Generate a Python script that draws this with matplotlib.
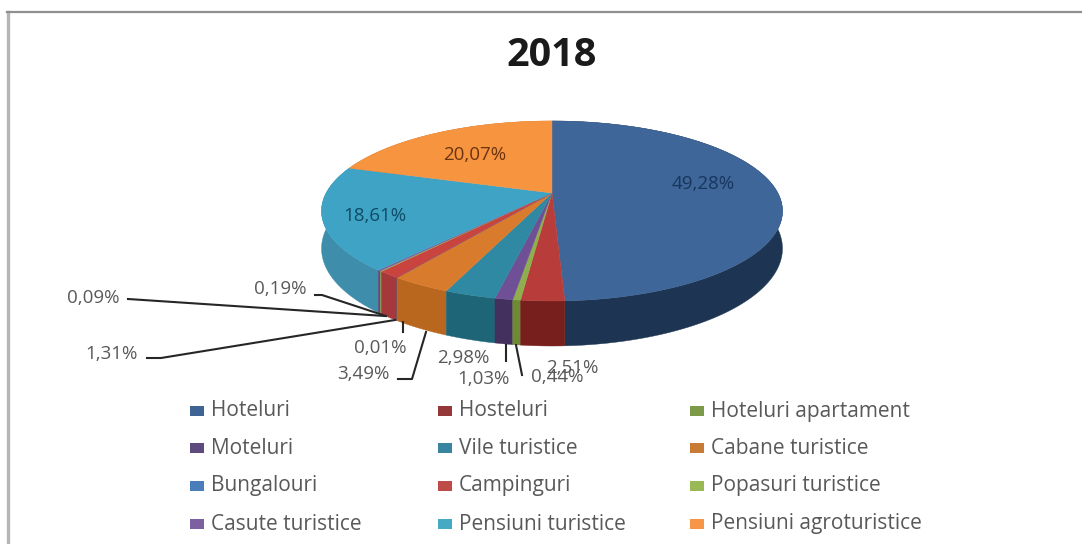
from __future__ import annotations

import numpy as np
import matplotlib

matplotlib.use("Agg")
import matplotlib.pyplot as plt
from matplotlib.patches import Polygon, Rectangle

WIDTH, HEIGHT = 1082, 544

names = [
    "Hoteluri", "Hosteluri", "Hoteluri apartament",
    "Moteluri", "Vile turistice", "Cabane turistice",
    "Bungalouri", "Campinguri", "Popasuri turistice",
    "Casute turistice", "Pensiuni turistice", "Pensiuni agroturistice",
]
shares = [49.28, 2.51, 0.44, 1.03, 2.98, 3.49, 0.01, 1.31, 0.09, 0.19, 18.61, 20.07]
top_colors = [
    "#3e6699", "#b83d3a", "#8fae4e", "#6f4f96", "#2f89a3", "#d97b2c",
    "#4a7ebb", "#c9433f", "#98b954", "#7d60a0", "#3fa3c6", "#f79440",
]
side_colors = [
    "#1d3553", "#761f1c", "#6f8a35", "#43305f", "#1f6578", "#b9661f",
    "#35608f", "#a5383a", "#7d9a48", "#5f4a80", "#3d8dab", "#c9742c",
]
legend_colors = [
    "#3e6494", "#95383a", "#7d9a48", "#5f4a80", "#38859f", "#c87b34",
    "#4a7ebb", "#be4b48", "#98b954", "#7d60a0", "#46aac5", "#f79646",
]
value_labels = ["49,28%", "2,51%", "0,44%", "1,03%", "2,98%", "3,49%",
                "0,01%", "1,31%", "0,09%", "0,19%", "18,61%", "20,07%"]

# pixel positions of the labels, same order as shares
label_xy = [(703, 184), (572, 368), (557, 377), (483, 379), (463, 358), (363, 374),
            (380, 348), (111, 354), (93, 298), (280, 289), (375, 216), (475, 155)]
label_colors = ["#17375e", "#595959", "#595959", "#595959", "#595959", "#595959",
                "#595959", "#595959", "#595959", "#595959", "#0e4c66", "#6b3410"]
leaders = [
    [(128, 299), (385, 316)],
    [(315, 295), (322, 295), (386, 316)],
    [(147, 358), (161, 358), (395, 320)],
    [(403, 322), (403, 332)],
    [(398, 379), (412, 379), (426, 332)],
    [(506, 345), (506, 361)],
    [(516, 345), (522, 375)],
]

legend_cols = [190, 438, 690]
legend_rows = [411, 448, 486, 524]

CX, CY = 552, 193
RX, RY, PERSP = 225.8, 86.4, 0.2
DEPTH = 36


def project(deg, drop=0.0):
    t = np.radians(deg)
    x, y = np.sin(t), -np.cos(t)
    s = 1 / (1 - PERSP * y)
    return CX + RX * x * s, CY + RY * y * s + drop * s


plt.rcParams["font.family"] = ["Open Sans", "DejaVu Sans"]
fig = plt.figure(figsize=(WIDTH / 100, HEIGHT / 100), dpi=100)
ax = fig.add_axes([0, 0, 1, 1])
ax.set_xlim(0, WIDTH)
ax.set_ylim(HEIGHT, 0)
ax.axis("off")

ax.plot([8, 8], [12, 544], color="#b5b5b5", linewidth=2.4)
ax.plot([7, 1082], [12, 12], color="#8f8f8f", linewidth=1.6)

total = sum(shares)
edges = np.concatenate([[0], np.cumsum(shares)]) / total * 360

# outer wall, the slices nearest the viewer go last
order = sorted(range(len(shares)), key=lambda i: -np.cos(np.radians((edges[i] + edges[i + 1]) / 2)))
for i in order:
    grid = np.linspace(edges[i], edges[i + 1], max(2, int(edges[i + 1] - edges[i]) + 2))
    xs, ys = project(grid)
    xb, yb = project(grid[::-1], DEPTH)
    pts = list(zip(xs, ys)) + list(zip(xb, yb))
    ax.add_patch(Polygon(pts, facecolor=side_colors[i], edgecolor=side_colors[i], linewidth=0.3))

# top face
for i in range(len(shares)):
    grid = np.linspace(edges[i], edges[i + 1], max(2, int(edges[i + 1] - edges[i]) + 2))
    xs, ys = project(grid)
    pts = [(CX, CY)] + list(zip(xs, ys))
    ax.add_patch(Polygon(pts, facecolor=top_colors[i], edgecolor=top_colors[i], linewidth=0.3))

for line in leaders:
    xs, ys = zip(*line)
    ax.plot(xs, ys, color="#262626", linewidth=1.5)

for text, (x, y), color in zip(value_labels, label_xy, label_colors):
    ax.text(x, y, text, ha="center", va="center", fontsize=13.5, color=color)

ax.text(552, 55, "2018", ha="center", va="center", fontsize=28.5, fontweight="bold", color="#1a1a1a")

for i, name in enumerate(names):
    x = legend_cols[i % 3]
    y = legend_rows[i // 3]
    ax.add_patch(Rectangle((x, y - 5), 14, 10, facecolor=legend_colors[i], edgecolor="none"))
    ax.text(x + 21, y, name, ha="left", va="center", fontsize=15, color="#595959")

fig.savefig("out.png", dpi=100)
